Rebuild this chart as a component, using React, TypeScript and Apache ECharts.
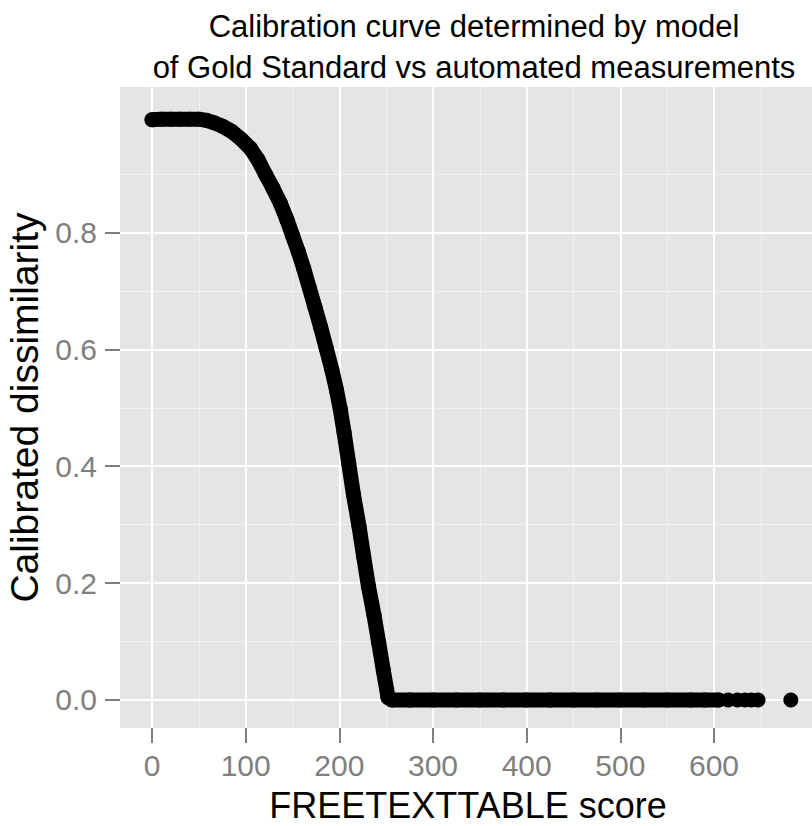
import React, { useEffect, useRef } from "react";
import * as echarts from "echarts";

// Main band of points: FREETEXTTABLE score vs calibrated dissimilarity
const curveX = [
  0, 10, 20, 30, 40, 50, 58, 66, 75, 85, 95, 105, 113, 121, 129, 137, 144, 150,
  156, 162, 168, 174, 180, 186, 192, 197, 201, 205, 210, 215, 221, 226, 231, 237,
  242, 247, 252, 256, 275, 300, 325, 350, 375, 400, 425, 450, 475, 500, 525, 550,
  575, 590, 605,
];
const curveY = [
  0.993, 0.994, 0.994, 0.994, 0.994, 0.994, 0.992, 0.988, 0.982, 0.973, 0.96,
  0.944, 0.925, 0.9, 0.876, 0.85, 0.822, 0.795, 0.768, 0.738, 0.705, 0.672, 0.638,
  0.602, 0.565, 0.53, 0.497, 0.458, 0.405, 0.352, 0.297, 0.245, 0.195, 0.145,
  0.098, 0.05, 0.004, 0, 0, 0, 0, 0, 0, 0, 0, 0, 0, 0, 0, 0, 0, 0, 0,
];
// Sparse points at the high end of the score range
const tailX = [615, 625, 633, 640, 647, 682];
const tailY = [0, 0, 0, 0, 0, 0];

const xTicks = [0, 100, 200, 300, 400, 500, 600];
const xMinor = [50, 150, 250, 350, 450, 550, 650];
const yTicks = [0, 0.2, 0.4, 0.6, 0.8];
const yMinor = [0.1, 0.3, 0.5, 0.7, 0.9];
const yTickLabels = ["0.0", "0.2", "0.4", "0.6", "0.8"];

const titleText =
  "Calibration curve determined by model\nof Gold Standard vs automated measurements";
const xTitle = "FREETEXTTABLE score";
const yTitle = "Calibrated dissimilarity";

const FONT = "'Liberation Sans', Arial, Helvetica, sans-serif";

export default function App() {
  const ref = useRef<HTMLDivElement>(null);

  useEffect(() => {
    document.body.style.margin = "0";
    if (!ref.current) return;
    const chart = echarts.init(ref.current, null, { renderer: "svg" });

    const bandData = curveX.map((x, i) => [x, curveY[i]]);
    const tailData = tailX.map((x, i) => [x, tailY[i]]);

    const gridLines = [
      ...xMinor.map((v) => ({ xAxis: v, lineStyle: { color: "#F2F2F2", width: 1, type: "solid" } })),
      ...yMinor.map((v) => ({ yAxis: v, lineStyle: { color: "#F2F2F2", width: 1, type: "solid" } })),
      ...xTicks.map((v) => ({ xAxis: v, lineStyle: { color: "#FFFFFF", width: 2, type: "solid" } })),
      ...yTicks.map((v) => ({ yAxis: v, lineStyle: { color: "#FFFFFF", width: 2, type: "solid" } })),
    ];

    const hiddenAxisLine = {
      show: true,
      onZero: false,
      lineStyle: { color: "rgba(0,0,0,0)", width: 0 },
    };

    chart.setOption({
      animation: false,
      backgroundColor: "#FFFFFF",
      textStyle: { fontFamily: FONT },
      graphic: [
        {
          type: "text",
          x: 474,
          y: 6,
          style: {
            text: titleText,
            font: `31px ${FONT}`,
            fill: "#000000",
            textAlign: "center",
            textVerticalAlign: "top",
            lineHeight: 41,
          },
        },
        {
          type: "text",
          x: 468,
          y: 805,
          style: {
            text: xTitle,
            font: `36px ${FONT}`,
            fill: "#000000",
            textAlign: "center",
            textVerticalAlign: "middle",
          },
        },
      ],
      grid: {
        left: 120,
        top: 87,
        width: 692,
        height: 641,
        show: true,
        backgroundColor: "#E5E5E5",
        borderWidth: 0,
        containLabel: false,
        outerBoundsMode: "none",
      },
      xAxis: {
        type: "value",
        position: "bottom",
        min: -34.2,
        max: 704.6,
        axisLine: hiddenAxisLine,
        splitLine: { show: false },
        axisTick: {
          show: true,
          inside: false,
          customValues: xTicks,
          length: 15,
          lineStyle: { color: "#7F7F7F", width: 2 },
        },
        axisLabel: {
          customValues: xTicks,
          fontSize: 30,
          color: "#7F7F7F",
          margin: 22,
          fontFamily: FONT,
        },
      },
      yAxis: {
        type: "value",
        position: "left",
        min: -0.048,
        max: 1.049,
        name: yTitle,
        nameLocation: "middle",
        nameRotate: 90,
        nameGap: 70,
        nameTextStyle: { fontSize: 39, color: "#000000", fontFamily: FONT },
        axisLine: hiddenAxisLine,
        splitLine: { show: false },
        axisTick: {
          show: true,
          inside: false,
          customValues: yTicks,
          length: 15,
          lineStyle: { color: "#7F7F7F", width: 2 },
        },
        axisLabel: {
          customValues: yTicks,
          fontSize: 30,
          color: "#7F7F7F",
          margin: 23,
          fontFamily: FONT,
          formatter: (v: number) => {
            const i = yTicks.findIndex((t) => Math.abs(t - v) < 1e-9);
            return i >= 0 ? yTickLabels[i] : v.toFixed(1);
          },
        },
      },
      series: [
        {
          type: "line",
          data: [],
          z: 1,
          silent: true,
          markLine: {
            silent: true,
            symbol: ["none", "none"],
            label: { show: false },
            animation: false,
            data: gridLines,
          },
        },
        {
          type: "line",
          data: bandData,
          z: 10,
          showSymbol: false,
          symbol: "none",
          silent: true,
          lineStyle: { color: "#000000", width: 15, cap: "round", join: "round", opacity: 1 },
        },
        {
          type: "scatter",
          data: bandData,
          z: 11,
          symbol: "circle",
          symbolSize: 15,
          itemStyle: { color: "#000000", opacity: 1 },
          silent: true,
        },
        {
          type: "scatter",
          data: tailData,
          z: 11,
          symbol: "circle",
          symbolSize: 15,
          itemStyle: { color: "#000000", opacity: 1 },
          silent: true,
        },
      ],
    });

    return () => {
      chart.dispose();
    };
  }, []);

  return <div ref={ref} style={{ width: 812, height: 826 }} />;
}
